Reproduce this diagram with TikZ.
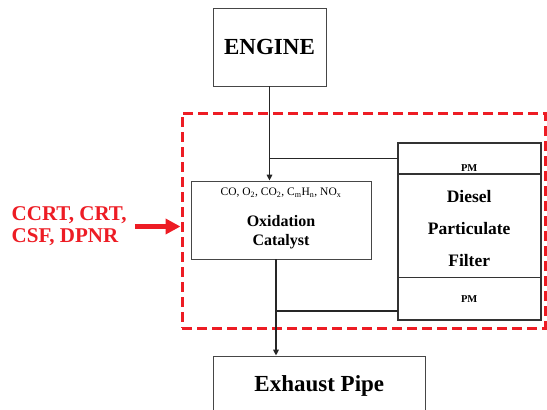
\documentclass[tikz,border=0pt]{standalone}
\usepackage{fontspec}
\setmainfont{Liberation Serif}
\definecolor{retrofitred}{RGB}{237, 28, 36}
\definecolor{boxgray}{RGB}{70, 70, 70}
\usetikzlibrary{arrows.meta, positioning, calc}

\begin{document}
\begin{tikzpicture}[
  x=1pt, y=-1pt,
  unit/.style={draw=boxgray, line width=0.8pt, inner sep=0pt, align=center, font=\fontsize{23}{27}\selectfont\bfseries},
  cell/.style={draw=black!80, line width=1.6pt, minimum width=143pt, inner sep=0pt, outer sep=0pt, align=center},
  pmtext/.style={font=\fontsize{10.5}{12}\selectfont\bfseries},
  flow/.style={draw=black!85, line width=1.7pt},
  flowarrow/.style={flow, -{Triangle[length=6pt, width=5.5pt]}},
  retrofitzone/.style={draw=retrofitred, line width=3pt, dash pattern=on 10pt off 5pt, inner sep=0pt},
  retrofitarrow/.style={draw=retrofitred, line width=5pt, -{Triangle[length=15pt, width=15pt]}}
]
  \useasboundingbox (0,0) rectangle (547,410);
  \clip (0,0) rectangle (547,410);

  % retrofit area
  \node[retrofitzone, minimum width=363pt, minimum height=215pt] (retrofit) at (363.5,220.5) {};

  \node[unit, minimum width=113pt, minimum height=78pt] (engine) at (269.5,47) {ENGINE};

  \node[unit, minimum width=180pt, minimum height=78pt] (oxcat) at (281,220) {};
  \node[font=\fontsize{11.5}{13}\selectfont] (gases) at (281,193)
    {CO, O\textsubscript{2}, CO\textsubscript{2}, C\textsubscript{m}H\textsubscript{n}, NO\textsubscript{x}};
  \node[align=center, font=\fontsize{16}{19}\selectfont\bfseries] (oxname) at (281,232) {Oxidation\\Catalyst};

  % diesel particulate filter
  \node[cell, minimum height=31.3pt, anchor=north] (pmtop) at (469.2,142.7) {};
  \node[pmtext, inner sep=0pt, above=2.5pt of pmtop.south] (pmtoplabel) {PM};
  \node[cell, minimum height=103.5pt, anchor=north] (dpf) at (pmtop.south) {};
  \node[align=center, font=\fontsize{17.5}{32}\selectfont\bfseries] (dpfname) at ([yshift=-3pt]dpf.center)
    {Diesel\\Particulate\\Filter};
  \node[cell, pmtext, minimum height=42.5pt, anchor=north] (pmbot) at (dpf.south) {PM};

  \node[unit, minimum width=212.7pt, minimum height=60pt] (exhaust) at (319.3,386) {Exhaust Pipe};

  \node[anchor=west, inner xsep=8pt, align=left, text=retrofitred, font=\fontsize{21}{22}\selectfont\bfseries] (systems) at (3.5,226.5)
    {CCRT, CRT,\\CSF, DPNR};

  \coordinate (outlet) at ([xshift=-5pt]oxcat.south);
  \coordinate (pmreturn) at ([yshift=-12pt]pmbot.west);

  \draw[flowarrow] (engine.south) -- (engine.south |- oxcat.north);
  \draw[flow] (pmtop.west) -- (pmtop.west -| engine.south);
  \draw[flowarrow] (outlet) -- (outlet |- exhaust.north);
  \draw[flow] (pmreturn) -- (pmreturn -| outlet);
  \draw[retrofitarrow] (systems.east) -- (systems.east -| retrofit.west);
\end{tikzpicture}
\end{document}
